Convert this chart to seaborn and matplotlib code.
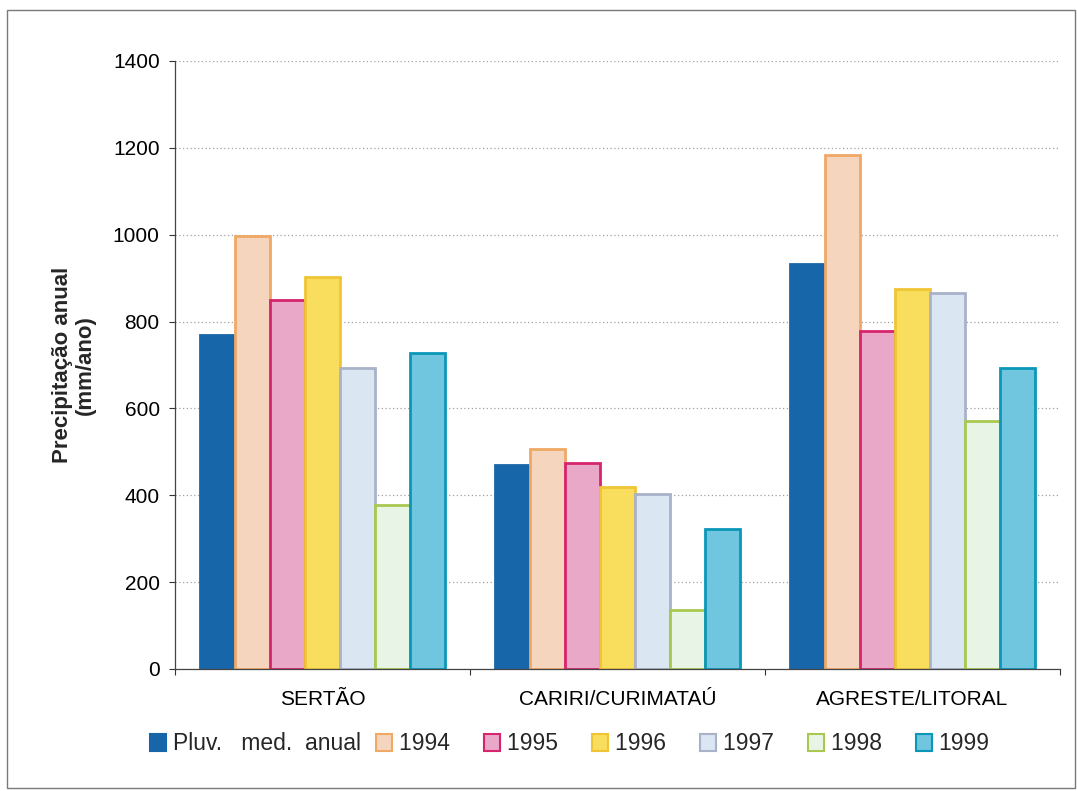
import matplotlib
matplotlib.use("Agg")
import matplotlib.pyplot as plt
import seaborn as sns
import pandas as pd
from matplotlib.patches import Rectangle

# ---- data ----
regions = ["SERTÃO", "CARIRI/CURIMATAÚ", "AGRESTE/LITORAL"]
series = ["Pluv.   med.  anual", "1994", "1995", "1996", "1997", "1998", "1999"]
pluv_med = [768, 469, 933]
y1994 = [998, 506, 1184]
y1995 = [849, 474, 779]
y1996 = [903, 418, 875]
y1997 = [694, 402, 866]
y1998 = [377, 135, 570]
y1999 = [728, 322, 694]
yticks = [0, 200, 400, 600, 800, 1000, 1200, 1400]

fills = ["#1766a9", "#f6d5bf", "#eaa8c8", "#f9dd5c", "#dae6f2", "#e8f5e6", "#6fc6de"]
edges = ["#1766a9", "#f0a865", "#d6246e", "#f0c535", "#a9b2c8", "#a8c850", "#0a97b8"]

values = [pluv_med, y1994, y1995, y1996, y1997, y1998, y1999]
rows = []
for s, vals in zip(series, values):
    for r, v in zip(regions, vals):
        rows.append({"Região": r, "Série": s, "Valor": v})
df = pd.DataFrame(rows)

sns.set_theme(style="white")
plt.rcParams["font.family"] = ["Liberation Sans", "DejaVu Sans"]

fig = plt.figure(figsize=(10.77, 7.91), dpi=100)
ax = fig.add_axes([175 / 1077, 1 - 669 / 791, (1060 - 175) / 1077, (669 - 61) / 791])

sns.barplot(data=df, x="Região", y="Valor", hue="Série", order=regions,
            hue_order=series, palette=fills, width=0.83, ax=ax,
            errorbar=None, saturation=1, legend=False)

for cont, ec in zip(ax.containers, edges):
    for bar in cont:
        bar.set_edgecolor(ec)
        bar.set_linewidth(2.0)

ax.set_ylim(0, 1400)
ax.set_xlim(-0.5, 2.5)
ax.set_yticks(yticks)
ax.set_yticklabels([str(t) for t in yticks], fontsize=15)
ax.tick_params(axis="y", which="major", length=4, width=0.8, pad=7, direction="out",
               left=True, colors="#333333", labelcolor="black")
ax.set_xticks(range(len(regions)))
ax.set_xticklabels(regions, fontsize=15)
ax.set_xticks([-0.5, 0.5, 1.5, 2.5], minor=True)
ax.tick_params(axis="x", which="major", length=0, pad=15, labelcolor="black")
ax.tick_params(axis="x", which="minor", length=4, width=0.8, direction="out",
               bottom=True, color="#333333")

ax.yaxis.grid(True, color="#a0a0a0", linestyle=(0, (1, 2)), linewidth=0.9)
ax.set_axisbelow(True)
for side in ["top", "right"]:
    ax.spines[side].set_visible(False)
for side in ["left", "bottom"]:
    ax.spines[side].set_color("#444444")
    ax.spines[side].set_linewidth(0.9)

ax.set_xlabel("")
ax.set_ylabel("Precipitação anual\n(mm/ano)", fontsize=16, fontweight="bold",
              labelpad=12, linespacing=1.15)

# legend
handles = [Rectangle((0, 0), 1, 1, facecolor=f, edgecolor=e, linewidth=1.5)
           for f, e in zip(fills, edges)]
labels = [series[0]] + [s + "   " for s in series[1:-1]] + [series[-1]]
fig.legend(handles, labels, ncol=7, loc="center",
           bbox_to_anchor=(570 / 1077, 1 - 744 / 791), frameon=False,
           fontsize=16.5, handlelength=0.7, handleheight=0.7,
           handletextpad=0.3, columnspacing=0.65, borderpad=0)

# outer frame
fig.patches.append(Rectangle((7 / 1077, 1 - 788 / 791), (1075 - 7) / 1077,
                             (788 - 10) / 791, transform=fig.transFigure,
                             fill=False, edgecolor="#7a7a7a", linewidth=1.0))

fig.savefig("out.png", dpi=100)
